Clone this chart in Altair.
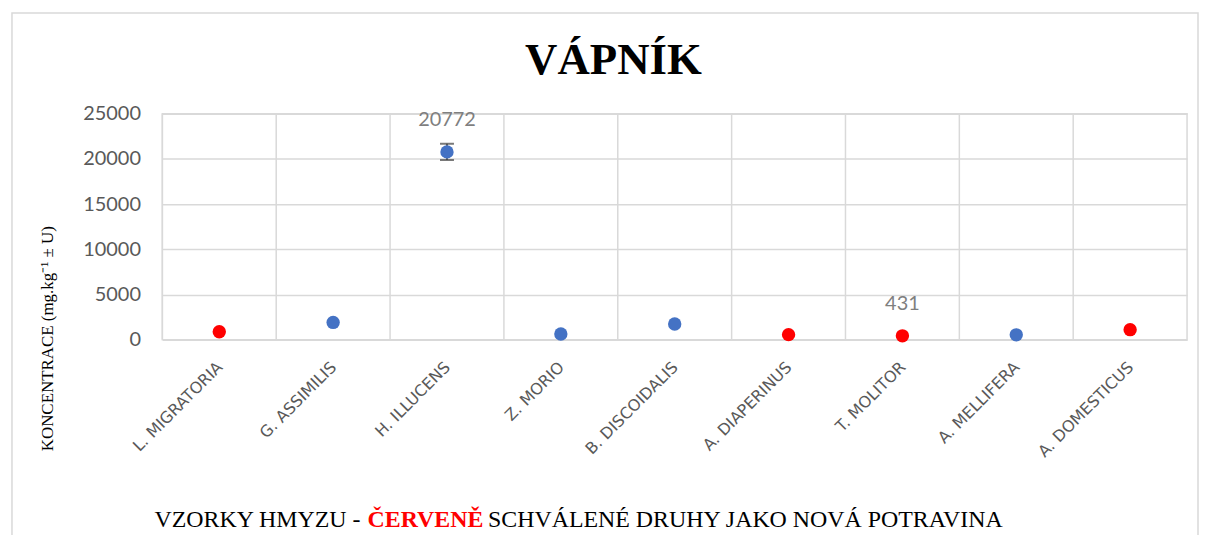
import altair as alt
import pandas as pd

species = ["L. MIGRATORIA", "G. ASSIMILIS", "H. ILLUCENS", "Z. MORIO", "B. DISCOIDALIS",
           "A. DIAPERINUS", "T. MOLITOR", "A. MELLIFERA", "A. DOMESTICUS"]
values = [880, 1910, 20772, 630, 1740, 560, 431, 540, 1110]
uncert = [0, 0, 900, 0, 0, 0, 0, 0, 0]
approved = ["ano", "ne", "ne", "ne", "ne", "ano", "ano", "ne", "ano"]
labels = ["", "", "20772", "", "", "", "431", "", ""]
y_ticks = [0, 5000, 10000, 15000, 20000, 25000]

title_text = "VÁPNÍK"
y_title = "KONCENTRACE (mg.kg⁻¹ ± U)"
x_title_parts = ["VZORKY HMYZU -", "ČERVENĚ", "SCHVÁLENÉ DRUHY JAKO NOVÁ POTRAVINA"]

df = pd.DataFrame({"species": species, "value": values, "U": uncert,
                   "group": approved, "label": labels})

GRID = "#d9d9d9"

xscale = alt.Scale(type="band", paddingInner=0, paddingOuter=0)
xaxis = alt.Axis(title=None, labelAngle=-45, labelFont="DejaVu Sans", labelFontSize=16,
                 labelColor="#595959", labelPadding=19, labelOffset=-5,
                 ticks=False, domain=False, grid=False)
yscale = alt.Scale(domain=[0, 25000], nice=False)
yaxis = alt.Axis(title=None, values=y_ticks, format="d", labelFont="Lato", labelFontSize=20,
                 labelColor="#595959", labelPadding=22, ticks=False, domain=False,
                 gridColor=GRID, gridWidth=1.5)


def xenc(**kw):
    return alt.X("species:N", sort=species, scale=xscale, axis=xaxis, **kw)


def yenc(field):
    return alt.Y(field, scale=yscale, axis=yaxis)


base = alt.Chart(df)

frame = alt.Chart(pd.DataFrame({"a": [0]})).mark_rect(
    fillOpacity=0, stroke=GRID, strokeWidth=1.5
).encode(x=alt.value(-151), x2=alt.value(1040), y=alt.value(-101), y2=alt.value(600))

seps = base.mark_rule(color=GRID, strokeWidth=1.5).encode(x=xenc(bandPosition=0))

err = base.transform_filter("datum.U > 0").transform_calculate(
    lo="datum.value - datum.U", hi="datum.value + datum.U")
err_rule = err.mark_rule(color="#404040", strokeWidth=1.5).encode(
    x=xenc(), y=yenc("lo:Q"), y2="hi:Q")
err_lo = err.mark_tick(color="#404040", thickness=2, size=14).encode(x=xenc(), y=yenc("lo:Q"))
err_hi = err.mark_tick(color="#404040", thickness=2, size=14).encode(x=xenc(), y=yenc("hi:Q"))

points = base.mark_circle(size=180, opacity=1).encode(
    x=xenc(), y=yenc("value:Q"),
    color=alt.Color("group:N", scale=alt.Scale(domain=["ano", "ne"], range=["#ff0000", "#4472c4"]),
                    legend=None))

lbls = base.mark_text(dy=-32, font="Lato", fontSize=20, color="#7f7f7f").encode(
    x=xenc(), y=yenc("value:Q"), text="label:N")

tdf = pd.DataFrame({"t": [title_text]})
title = alt.Chart(tdf).mark_text(font="Liberation Serif", fontSize=45, fontWeight="bold",
                                 color="black", align="center", baseline="alphabetic").encode(
    text="t:N", x=alt.value(453), y=alt.value(-40))

ytdf = pd.DataFrame({"t": [y_title]})
ytitle = alt.Chart(ytdf).mark_text(font="Liberation Serif", fontSize=17, color="black",
                                   angle=270, align="center", baseline="middle").encode(
    text="t:N", x=alt.value(-115), y=alt.value(226))

x1 = alt.Chart(pd.DataFrame({"t": [x_title_parts[0]]})).mark_text(
    font="Liberation Serif", fontSize=24, color="black", align="right", baseline="alphabetic"
).encode(text="t:N", x=alt.value(199), y=alt.value(415))
x2 = alt.Chart(pd.DataFrame({"t": [x_title_parts[1]]})).mark_text(
    font="Liberation Serif", fontSize=24, fontWeight="bold", color="#ff0000", align="left",
    baseline="alphabetic"
).encode(text="t:N", x=alt.value(206), y=alt.value(415))
x3 = alt.Chart(pd.DataFrame({"t": [x_title_parts[2]]})).mark_text(
    font="Liberation Serif", fontSize=24, color="black", align="left", baseline="alphabetic"
).encode(text="t:N", x=alt.value(327), y=alt.value(415))

chart = alt.layer(frame, seps, err_rule, err_lo, err_hi, points, lbls, title, ytitle, x1, x2, x3).properties(
    width=1029, height=227,
    padding={"left": 155, "right": 12, "top": 105, "bottom": 195},
    autosize=alt.AutoSizeParams(type="none"),
    background="white",
).configure_view(stroke=GRID, strokeWidth=1.5)

chart.save("out.html", embed_options={"renderer": "svg", "actions": False})
